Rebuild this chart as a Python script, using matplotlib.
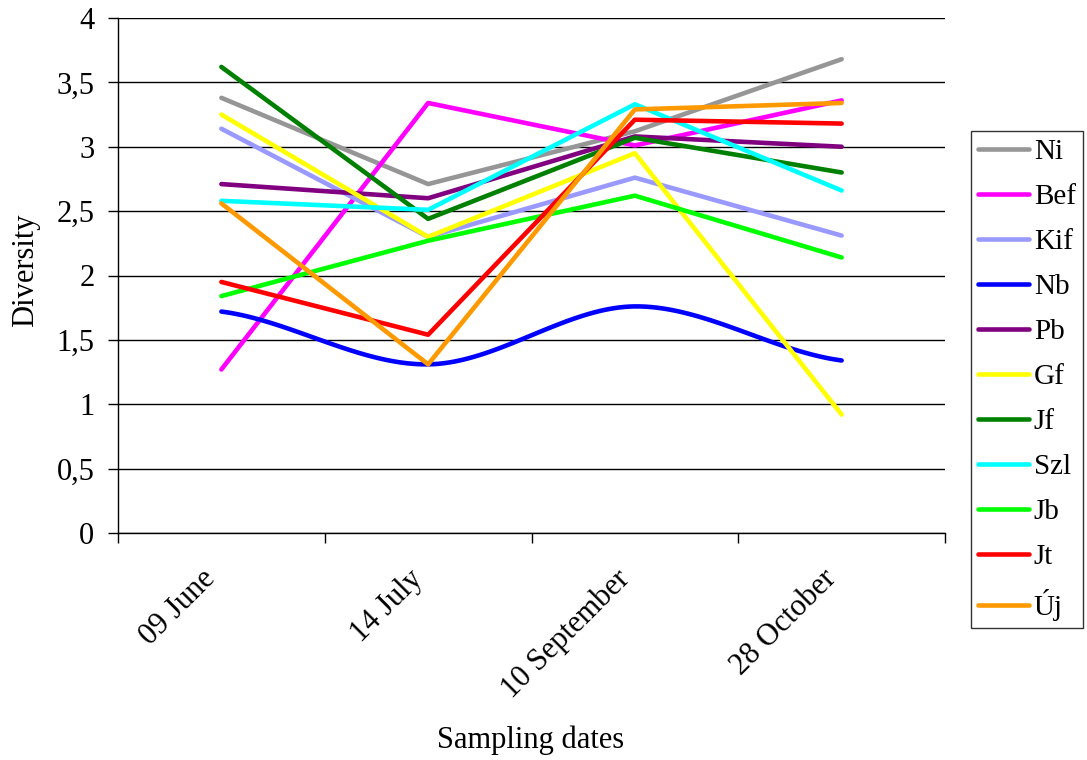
import numpy as np
import matplotlib.pyplot as plt
from matplotlib.ticker import FuncFormatter
from matplotlib.transforms import ScaledTranslation

plt.rcParams["font.family"] = ["Liberation Serif", "DejaVu Serif"]

dates = ["09 June", "14 July", "10 September", "28 October"]

ni = [3.38, 2.71, 3.12, 3.68]
bef = [1.27, 3.34, 3.01, 3.36]
kif = [3.14, 2.30, 2.76, 2.31]
nb = [1.72, 1.31, 1.76, 1.34]
pb = [2.71, 2.60, 3.08, 3.00]
gf = [3.25, 2.30, 2.95, 0.92]
jf = [3.62, 2.44, 3.07, 2.80]
szl = [2.58, 2.51, 3.33, 2.66]
jb = [1.84, 2.27, 2.62, 2.14]
jt = [1.95, 1.54, 3.21, 3.18]
uj = [2.56, 1.31, 3.29, 3.34]

series = [
    ("Ni", ni, "#969696"),
    ("Bef", bef, "#FF00FF"),
    ("Kif", kif, "#9999FF"),
    ("Nb", nb, "#0000FF"),
    ("Pb", pb, "#800080"),
    ("Gf", gf, "#FFFF00"),
    ("Jf", jf, "#008000"),
    ("Szl", szl, "#00FFFF"),
    ("Jb", jb, "#00FF00"),
    ("Jt", jt, "#FF0000"),
    ("Új", uj, "#FF9900"),
]
smoothed = {"Nb"}
FS = 22


def catmull_rom(y, n=40):
    # smooth curve through the points, like the spreadsheet "smoothed line"
    y = np.asarray(y, dtype=float)
    p = np.concatenate([[y[0]], y, [y[-1]]])
    xs, ys = [], []
    for i in range(len(y) - 1):
        p0, p1, p2, p3 = p[i], p[i + 1], p[i + 2], p[i + 3]
        t = np.linspace(0, 1, n, endpoint=(i == len(y) - 2))
        v = 0.5 * ((2 * p1) + (-p0 + p2) * t
                   + (2 * p0 - 5 * p1 + 4 * p2 - p3) * t ** 2
                   + (-p0 + 3 * p1 - 3 * p2 + p3) * t ** 3)
        xs.append(i + t)
        ys.append(v)
    return np.concatenate(xs), np.concatenate(ys)


fig = plt.figure(figsize=(10.87, 7.60), dpi=100)
ax = fig.add_axes([118 / 1087, 1 - 533 / 760, (945 - 118) / 1087, (533 - 18) / 760])

x = np.arange(len(dates))
for name, vals, col in series:
    if name in smoothed:
        sx, sy = catmull_rom(vals)
        ax.plot(sx, sy, color=col, lw=3.3, label=name, solid_capstyle="round")
    else:
        ax.plot(x, vals, color=col, lw=3.3, label=name, solid_capstyle="round")

ax.set_xlim(-0.5, len(dates) - 0.5)
ax.set_ylim(0, 4)
ax.set_yticks(np.arange(0, 4.01, 0.5))
ax.yaxis.set_major_formatter(FuncFormatter(lambda v, p: f"{v:g}".replace(".", ",")))
ax.yaxis.grid(True, color="black", lw=1)
ax.set_axisbelow(True)

ax.set_xticks(x)
ax.set_xticklabels(dates, rotation=45, ha="right", va="center", rotation_mode="anchor")
ax.set_xticks(np.arange(-0.5, len(dates), 1), minor=True)
ax.tick_params(axis="x", which="major", length=0, pad=30, labelsize=FS)
ax.tick_params(axis="x", which="minor", length=7, direction="out", width=1)
ax.tick_params(axis="y", length=7, direction="out", width=1, labelsize=FS, pad=10)
shift = ScaledTranslation(-10 / 100, 0, fig.dpi_scale_trans)
for lab in ax.get_xticklabels():
    lab.set_transform(lab.get_transform() + shift)

for s in ("top", "right"):
    ax.spines[s].set_visible(False)
ax.spines["left"].set_linewidth(1)
ax.spines["bottom"].set_linewidth(1)

fig.text(26 / 1087, 1 - 270 / 760, "Diversity", fontsize=FS, rotation=90,
         ha="center", va="center")
fig.text(531 / 1087, 1 - 740 / 760, "Sampling dates", fontsize=FS, ha="center", va="center")

leg = fig.legend(loc="upper left", bbox_to_anchor=(971 / 1087, 1 - 131 / 760),
                 frameon=True, fancybox=False, edgecolor="black", fontsize=21,
                 handlelength=1.75, handletextpad=0.15, labelspacing=0.64,
                 borderpad=0.25, borderaxespad=0)
leg.get_frame().set_linewidth(1)

fig.savefig("out.png", dpi=100)
